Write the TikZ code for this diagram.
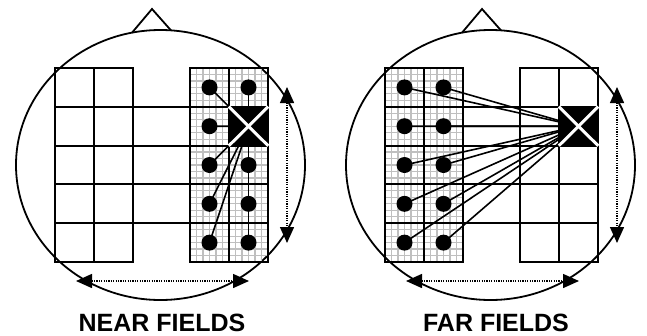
\documentclass[tikz,border=0pt]{standalone}
\usepackage{fontspec}
\setmainfont{Liberation Sans}
\usetikzlibrary{arrows.meta}

\tikzset{
	head/.style={line width=1.8pt},
	box/.style={line width=2pt},
	fine/.style={black!25, line width=1.2pt},
	link/.style={line width=1.6pt},
	dot/.style={circle, fill=black, inner sep=0pt, minimum size=16pt},
	target/.style={fill=black, inner sep=0pt, minimum width=39pt, minimum height=38.8pt},
	cross/.style={white, line width=3pt},
	span/.style={dash pattern=on 1.2pt off 1.2pt, line width=1.5pt, {Triangle[length=16pt,width=14pt]}-{Triangle[length=16pt,width=14pt]}},
	caption/.style={font=\bfseries\fontsize{25}{30}\selectfont, anchor=base}
}

% a 2 x 5 block of electrodes, left edge at #1
\newcommand{\plaingrid}[1]{
	\draw[box] (#1,68) rectangle ++(78,194);
	\draw[box] (#1+39,68) -- ++(0,194);
}
\newcommand{\finegrid}[1]{
	\foreach \k in {1,...,11}
		\draw[fine] (#1+\k*6.5,68) -- ++(0,194);
	\foreach \k in {1,...,29}
		\draw[fine] (#1,68+\k*6.4667) -- ++(78,0);
	\plaingrid{#1}
}
\newcommand{\rows}{
	\foreach \r in {1,...,4}
		\draw[box] (55,68+\r*38.8) -- (268,68+\r*38.8);
}
\newcommand{\headshape}{
	\draw[head] (160.5,165) ellipse [x radius=144.5, y radius=135];
	\draw[head] (132,32.7) -- (152,9) -- (171,30.4);
	\coordinate (vt) at (287,87);
	\coordinate (vb) at (287,243);
	\coordinate (hl) at (76,281);
	\coordinate (hr) at (249,281);
	\draw[span] (vt) -- (vb);
	\draw[span] (hl) -- (hr);
}

\begin{document}
\begin{tikzpicture}[x=1pt,y=-1pt]
	\useasboundingbox (0,0) rectangle (647,335);

	% near fields
	\headshape
	\finegrid{190}
	\plaingrid{55}
	\rows
	\coordinate (nearC) at (248.5,126.2);
	\foreach \c/\r in {1/1,1/2,1/3,1/4,1/5,2/1,2/3,2/4,2/5} {
		\node[dot] (near-\c-\r) at (190+\c*39-19.5,68+\r*38.8-19.4) {};
		\draw[link] (near-\c-\r.center) -- (nearC);
	}
	\node[target] (nearT) at (nearC) {};
	\draw[cross] (nearT.north west) -- (nearT.south east);
	\draw[cross] (nearT.south west) -- (nearT.north east);
	\node[caption] (nearlbl) at (162,331) {NEAR FIELDS};

	% far fields
	\begin{scope}[xshift=330pt]
		\headshape
		\finegrid{55}
		\plaingrid{190}
		\rows
		\coordinate (farC) at (248.5,126.2);
		\foreach \c in {1,2}
			\foreach \r in {1,...,5} {
				\node[dot] (far-\c-\r) at (55+\c*39-19.5,68+\r*38.8-19.4) {};
				\draw[link] (far-\c-\r.center) -- (farC);
			}
		\node[target] (farT) at (farC) {};
		\draw[cross] (farT.north west) -- (farT.south east);
		\draw[cross] (farT.south west) -- (farT.north east);
		\node[caption] (farlbl) at (166,331) {FAR FIELDS};
	\end{scope}
\end{tikzpicture}
\end{document}
